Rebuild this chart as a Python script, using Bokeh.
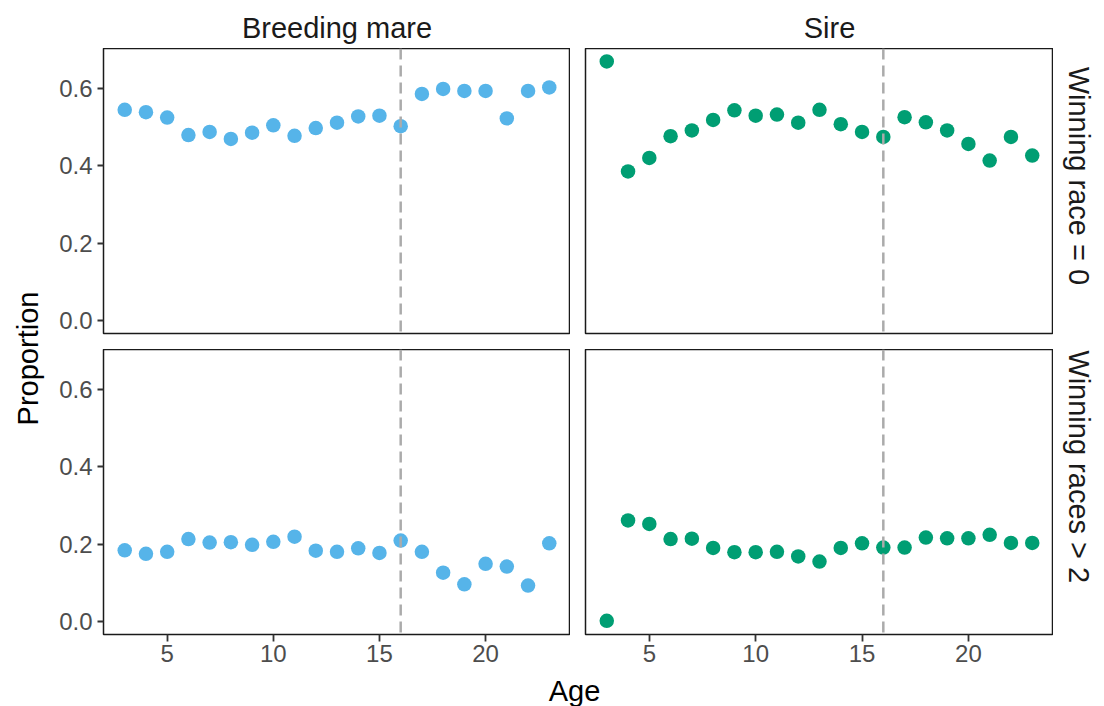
import numpy as np
from bokeh.plotting import figure
from bokeh.models import Range1d, Span, Label, FixedTicker, NumeralTickFormatter
from bokeh.layouts import row, column
from bokeh.embed import file_html
from bokeh.resources import INLINE

# ---------------- data ----------------
ages = list(range(3, 24))
mare_win0 = [0.544, 0.538, 0.524, 0.479, 0.487, 0.469, 0.485, 0.504, 0.477, 0.497, 0.511,
             0.527, 0.529, 0.502, 0.585, 0.598, 0.593, 0.593, 0.522, 0.593, 0.602]
sire_win0 = [0.669, 0.385, 0.420, 0.476, 0.491, 0.518, 0.543, 0.529, 0.532, 0.511, 0.544,
             0.507, 0.487, 0.474, 0.525, 0.512, 0.491, 0.456, 0.413, 0.474, 0.426]
mare_win2 = [0.184, 0.175, 0.180, 0.213, 0.204, 0.205, 0.198, 0.206, 0.219, 0.183, 0.180,
             0.189, 0.177, 0.209, 0.180, 0.126, 0.096, 0.149, 0.142, 0.093, 0.202]
sire_win2 = [0.002, 0.261, 0.252, 0.213, 0.214, 0.190, 0.179, 0.179, 0.180, 0.168, 0.155,
             0.190, 0.202, 0.191, 0.191, 0.217, 0.215, 0.215, 0.224, 0.203, 0.203]
col_labels = ["Breeding mare", "Sire"]
row_labels = ["Winning race = 0", "Winning races > 2"]
x_ticks = [5, 10, 15, 20]
y_ticks = [0.0, 0.2, 0.4, 0.6]
cutoff_age = 16
x_title = "Age"
y_title = "Proportion"

MARE_COLOR = "#56B4E9"
SIRE_COLOR = "#009E73"
FONT = "Liberation Sans"

# ggplot-like expanded ranges
all_vals = mare_win0 + sire_win0 + mare_win2 + sire_win2
xpad = 0.05 * (max(ages) - min(ages))
ymin, ymax = min(0.0, min(all_vals)), max(all_vals)
ypad = 0.05 * (ymax - ymin)
XR = (min(ages) - xpad, max(ages) + xpad)
YR = (ymin - ypad, ymax + ypad)

# page geometry (pixels)
W, H = 1104, 706
YLAB_W = 48
STRIP_TOP_H = 48
STRIP_RIGHT_W = 51
XLAB_H = 30
LEFT_BORDER = 55          # room for y tick labels
GAP_X = 15
GAP_Y = 16
FRAME_W_L, FRAME_W_R = 467, 468
FRAME_H = 285
BOTTOM_BORDER = 42


def style_blank(p):
    p.grid.visible = False
    p.outline_line_color = None
    p.background_fill_color = "white"
    p.border_fill_color = "white"


def panel(vals, color, width, height, bl, br, bt, bb, show_x, show_y):
    p = figure(width=width, height=height,
               x_range=Range1d(*XR), y_range=Range1d(*YR),
               toolbar_location=None, output_backend="svg",
               min_border_left=bl, min_border_right=br,
               min_border_top=bt, min_border_bottom=bb,
               x_axis_location="below" if show_x else None,
               y_axis_location="left" if show_y else None)
    p.grid.visible = False
    p.outline_line_color = "#1A1A1A"
    p.outline_line_width = 1.5
    p.background_fill_color = "white"
    p.border_fill_color = "white"
    for ax in p.axis:
        ax.axis_line_color = None
        ax.major_tick_line_color = "#333333"
        ax.major_tick_line_width = 1.8
        ax.major_tick_in = 0
        ax.minor_tick_line_color = None
        ax.major_label_text_font = FONT
        ax.major_label_text_font_size = "24px"
        ax.major_label_text_color = "#4D4D4D"
    if show_x:
        p.xaxis.ticker = FixedTicker(ticks=x_ticks)
        p.xaxis.major_tick_out = 7
        p.xaxis.major_label_standoff = 3
    if show_y:
        p.yaxis.ticker = FixedTicker(ticks=y_ticks)
        p.yaxis.formatter = NumeralTickFormatter(format="0.0")
        p.yaxis.major_tick_out = 6
        p.yaxis.major_label_standoff = 5

    p.scatter(ages, vals, size=14.5, color=color, line_color=None)
    p.add_layout(Span(location=cutoff_age, dimension="height", line_color="#ABABAB",
                      line_width=2.5, line_dash="11 6"))
    return p


TOP_H = FRAME_H + GAP_Y
BOT_H = FRAME_H + BOTTOM_BORDER
LW = LEFT_BORDER + FRAME_W_L
RW = GAP_X + FRAME_W_R

tl = panel(mare_win0, MARE_COLOR, LW, TOP_H, LEFT_BORDER, 0, 0, GAP_Y, False, True)
tr = panel(sire_win0, SIRE_COLOR, RW, TOP_H, GAP_X, 0, 0, GAP_Y, False, False)
bl = panel(mare_win2, MARE_COLOR, LW, BOT_H, LEFT_BORDER, 0, 0, BOTTOM_BORDER, True, True)
br = panel(sire_win2, SIRE_COLOR, RW, BOT_H, GAP_X, 0, 0, BOTTOM_BORDER, True, False)


def text_fig(w, h, x0, y0):
    # a blank figure whose data coordinates equal page pixel coordinates
    f = figure(width=w, height=h, x_range=Range1d(x0, x0 + w), y_range=Range1d(y0 + h, y0),
               toolbar_location=None, output_backend="svg", min_border=0,
               x_axis_location=None, y_axis_location=None)
    style_blank(f)
    return f


def add_text(f, x, y, txt, angle=0.0, size="29px", color="#1A1A1A"):
    f.add_layout(Label(x=x, y=y, text=txt, angle=angle,
                       text_align="center", text_baseline="middle",
                       text_font=FONT, text_font_size=size, text_color=color))


# top strip (column facet labels)
top_strip = text_fig(W - YLAB_W, STRIP_TOP_H, YLAB_W, 0)
left_frame_x0 = YLAB_W + LEFT_BORDER
right_frame_x0 = YLAB_W + LW + GAP_X
add_text(top_strip, left_frame_x0 + FRAME_W_L / 2, 27, col_labels[0])
add_text(top_strip, right_frame_x0 + FRAME_W_R / 2 + 10, 27, col_labels[1])

# right strips (row facet labels)
rs_x0 = W - STRIP_RIGHT_W
rs1 = text_fig(STRIP_RIGHT_W, TOP_H, rs_x0, STRIP_TOP_H)
add_text(rs1, rs_x0 + 25, STRIP_TOP_H + FRAME_H / 2 - 8, row_labels[0], angle=-np.pi / 2)
rs2 = text_fig(STRIP_RIGHT_W, BOT_H, rs_x0, STRIP_TOP_H + TOP_H)
add_text(rs2, rs_x0 + 25, STRIP_TOP_H + TOP_H + FRAME_H / 2 - 8, row_labels[1],
         angle=-np.pi / 2)

# axis titles
ylab = text_fig(YLAB_W, H, 0, 0)
add_text(ylab, 27, 358, y_title, angle=np.pi / 2, size="29px", color="#000000")
xlab = text_fig(W - YLAB_W, XLAB_H, YLAB_W, H - XLAB_H)
add_text(xlab, (left_frame_x0 + right_frame_x0 + FRAME_W_R) / 2 - 4, 690, x_title,
         size="29px", color="#000000")

layout = row(ylab, column(top_strip, row(tl, tr, rs1), row(bl, br, rs2), xlab))

open("out.html", "w").write(file_html(layout, INLINE))
